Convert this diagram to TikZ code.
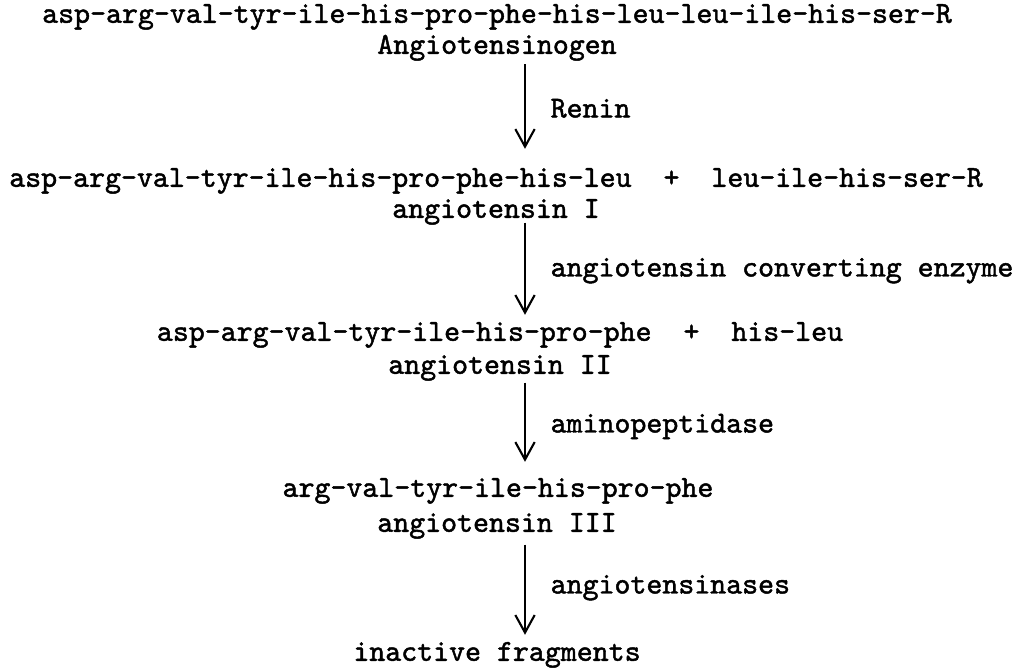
\documentclass[tikz,border=0pt]{standalone}
\usepackage{fontspec}
\newfontfamily\typewr{lmmono10-regular.otf}[FakeBold=1.5]
\usetikzlibrary{arrows.meta,positioning}

\begin{document}
\begin{tikzpicture}%
        [x={(0.02cm,0cm)},
        y={(0cm,-0.02cm)},
        seq/.style={font=\typewr\fontsize{17.3}{20}\selectfont, inner sep=0pt,
                    text height=10pt, text depth=2.5pt, anchor=mid},
        enz/.style={seq, right=14pt, anchor=mid west},
        rxn/.style={line width=1.2pt, -{Straight Barb[length=10pt,width=11pt]}}]

    \useasboundingbox (0,0) rectangle (1026,671);
    \coordinate (axis) at (525,0);

    %% Peptides and their names
    \node[seq] (ogen) at (497,19) {asp-arg-val-tyr-ile-his-pro-phe-his-leu-leu-ile-his-ser-R};
    \node[seq] (ogenlbl) at (497,50) {Angiotensinogen};
    \node[seq] (angI) at (496,183) {asp-arg-val-tyr-ile-his-pro-phe-his-leu~~+~~leu-ile-his-ser-R};
    \node[seq] (angIlbl) at (496,214) {angiotensin I};
    \node[seq] (angII) at (500,337) {asp-arg-val-tyr-ile-his-pro-phe~~+~~his-leu};
    \node[seq] (angIIlbl) at (500,370) {angiotensin II};
    \node[seq] (angIII) at (498,493) {arg-val-tyr-ile-his-pro-phe};
    \node[seq] (angIIIlbl) at (497,528) {angiotensin III};
    \node[seq] (frag) at (497,657) {inactive fragments};
    %%
    %% Enzyme steps
    %%
    \draw[rxn, shorten <=3.4pt, shorten >=11.4pt] (ogenlbl.south -| axis) -- (angI.north -| axis)
        node[enz, midway] {Renin};
    \draw[rxn, shorten <=0pt, shorten >=4.6pt] (angIlbl.south -| axis) -- (angII.north -| axis)
        node[enz, midway] {angiotensin converting enzyme};
    \draw[rxn, shorten <=2.3pt, shorten >=9.7pt] (angIIlbl.south -| axis) -- (angIII.north -| axis)
        node[enz, midway] {aminopeptidase};
    \draw[rxn, shorten <=4.6pt, shorten >=4.6pt] (angIIIlbl.south -| axis) -- (frag.north -| axis)
        node[enz, midway] {angiotensinases};
    %%
\end{tikzpicture}
\end{document}
